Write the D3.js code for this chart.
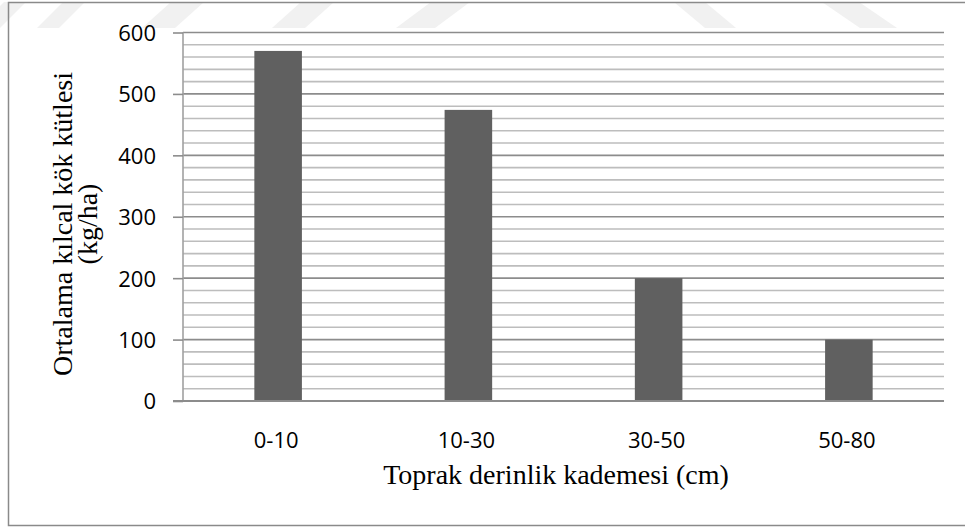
<!DOCTYPE html>
<html>
<head>
<meta charset="utf-8">
<script src="https://cdn.jsdelivr.net/npm/d3@7"></script>
<style>
  html, body { margin: 0; padding: 0; background: #ffffff; }
  svg { display: block; }
</style>
</head>
<body>
<svg id="chart" width="965" height="527"></svg>
<script>
// Soil depth classes and mean fine-root mass (kg/ha)
const categories = ["0-10", "10-30", "30-50", "50-80"];
const rootMass = [570, 474, 200, 100];
const yTicks = [0, 100, 200, 300, 400, 500, 600];
const yTitleLines = ["Ortalama kılcal kök kütlesi", "(kg/ha)"];
const xTitle = "Toprak derinlik kademesi (cm)";

// Faint decorative band along the top edge: [bottomLeftX, width, slant]
const bandShapes = [
  [-22, 22, 26], [37, 22, 26], [142, 33, 29], [272, 33, 29], [396, 39, 35],
  [705, 31, -31], [860, 37, -38]
];

const svg = d3.select("#chart");

const plotLeft = 183, plotRight = 944, plotTop = 32.5, plotBottom = 401;

const y = d3.scaleLinear().domain([0, 600]).range([plotBottom, plotTop]);
const x = d3.scaleBand().domain(categories).range([plotLeft, plotRight])
  .paddingInner(0.75).paddingOuter(0.375);

// decorative shapes
svg.append("g").selectAll("polygon").data(bandShapes).join("polygon")
  .attr("points", d => {
    const [bx, w, s] = d;
    const yb = 28, yt = 2;
    return [[bx, yb], [bx + w, yb], [bx + w + s, yt], [bx + s, yt]].map(p => p.join(",")).join(" ");
  })
  .attr("fill", "#f1f1f1");

// outer frame (left, top, bottom edges)
svg.append("path")
  .attr("d", "M980,2.5 H8.5 V525.5 H980")
  .attr("fill", "none").attr("stroke", "#8a8a8a").attr("stroke-width", 1.5);

// gridlines every 20 units; the hundreds drawn darker
const gridVals = d3.range(20, 601, 20);
svg.append("g").selectAll("line").data(gridVals).join("line")
  .attr("x1", plotLeft).attr("x2", plotRight)
  .attr("y1", d => y(d)).attr("y2", d => y(d))
  .attr("stroke", d => d % 100 === 0 ? "#8c8c8c" : "#bdbdbd")
  .attr("stroke-width", 1.6);

// y axis with outward ticks
const yAxis = d3.axisLeft(y).tickValues(yTicks).tickSize(10).tickFormat(d3.format("d"));
const yg = svg.append("g").attr("transform", `translate(${plotLeft},0)`).call(yAxis);
yg.select(".domain").attr("stroke", "#a0a0a0").attr("stroke-width", 1.6)
  .attr("d", `M0,${plotTop}V${plotBottom}`);
yg.selectAll(".tick line").attr("stroke", "#8c8c8c").attr("stroke-width", 1.6);
yg.selectAll(".tick text")
  .attr("x", -27).attr("dy", "0.36em")
  .attr("font-family", "'Open Sans', sans-serif").attr("font-size", 22)
  .attr("fill", "#000");

// bars
svg.append("g").selectAll("rect").data(rootMass).join("rect")
  .attr("x", (d, i) => x(categories[i]))
  .attr("width", x.bandwidth())
  .attr("y", d => y(d))
  .attr("height", d => y(0) - y(d))
  .attr("fill", "#606060");

// x axis baseline
const xAxis = d3.axisBottom(x).tickSize(0).tickPadding(0);
const xg = svg.append("g").attr("transform", `translate(0,${plotBottom})`).call(xAxis);
xg.select(".domain").remove();
xg.append("line").attr("x1", plotLeft - 10).attr("x2", plotRight)
  .attr("y1", 0).attr("y2", 0).attr("stroke", "#8c8c8c").attr("stroke-width", 1.8);
xg.selectAll(".tick text")
  .attr("y", 47).attr("dy", 0).attr("dx", -2)
  .attr("font-family", "'Open Sans', sans-serif").attr("font-size", 22)
  .attr("fill", "#000");

// axis titles
svg.append("text")
  .attr("x", 556).attr("y", 484)
  .attr("text-anchor", "middle")
  .attr("font-family", "'Liberation Serif', 'Times New Roman', serif")
  .attr("font-size", 28).attr("fill", "#000")
  .text(xTitle);

const yt = svg.append("text")
  .attr("transform", "translate(0,224) rotate(-90)")
  .attr("text-anchor", "middle")
  .attr("font-family", "'Liberation Serif', 'Times New Roman', serif")
  .attr("font-size", 28).attr("fill", "#000");
yt.selectAll("tspan").data(yTitleLines).join("tspan")
  .attr("x", 0).attr("y", (d, i) => 72 + i * 25)
  .text(d => d);
</script>
</body>
</html>
